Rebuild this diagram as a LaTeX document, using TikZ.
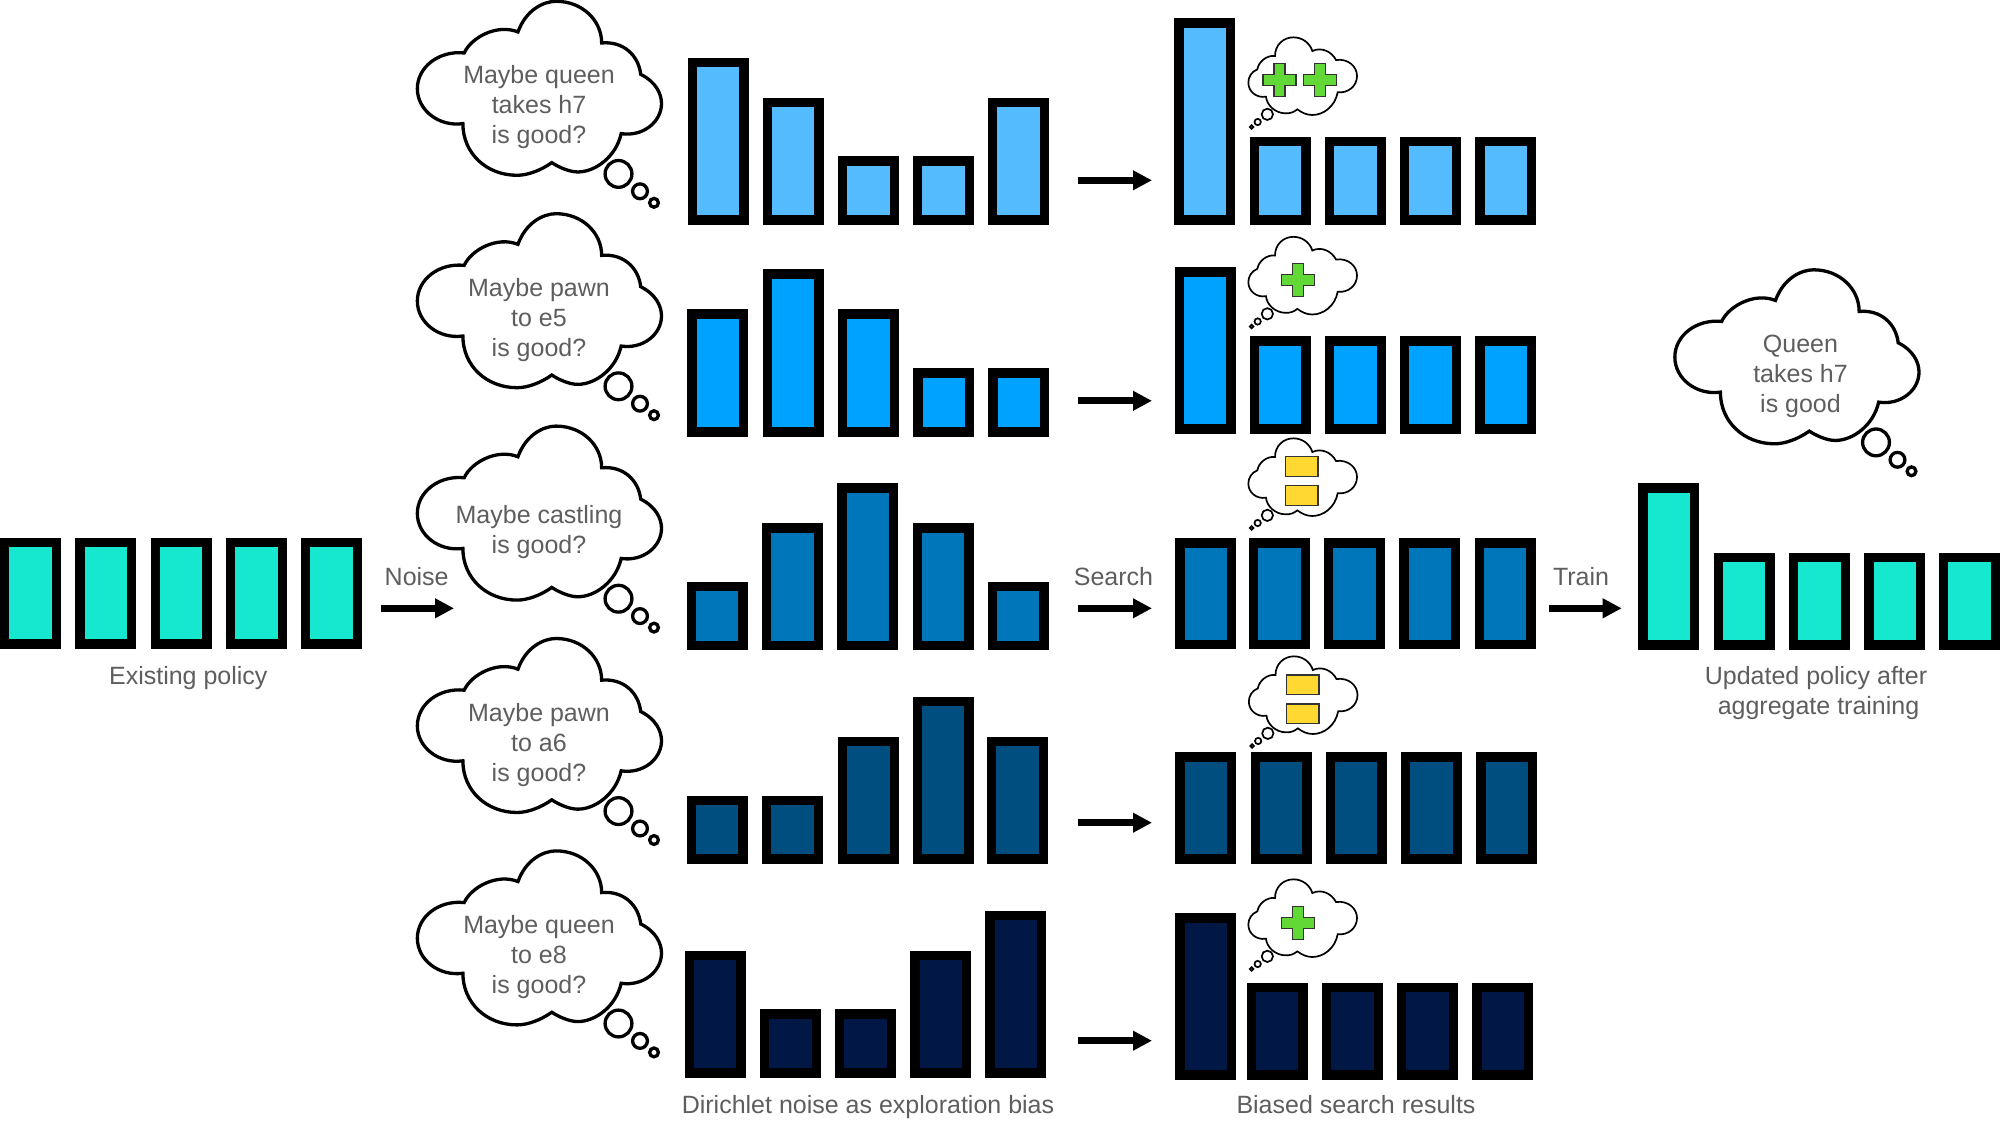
\documentclass[tikz,border=0pt]{standalone}
\usepackage{fontspec}
\setmainfont{Liberation Sans}
\usetikzlibrary{arrows.meta}
\definecolor{teal1}{HTML}{16E7CF}
\definecolor{blueA}{HTML}{55BBFF}
\definecolor{blueB}{HTML}{00A2FF}
\definecolor{blueC}{HTML}{0076BA}
\definecolor{blueD}{HTML}{004D80}
\definecolor{blueE}{HTML}{011745}
\definecolor{plusgreen}{HTML}{61D836}
\definecolor{eqyellow}{HTML}{FFD932}
\definecolor{txtgray}{HTML}{5E5E5E}
\tikzset{
  lbl/.style={text=txtgray,inner sep=0pt,align=center,font=\fontsize{25}{30}\selectfont},
  flow/.style={line width=7pt,line cap=butt,-{Triangle[length=19pt,width=18.7pt]}},
  bigline/.style={draw=black,line width=3.3pt,fill=white,line join=miter},
  smallline/.style={draw=black,line width=1.7pt,fill=white,line join=miter},
  markline/.style={draw=black!80,line width=1.2pt}
}
\newcommand\pbar[4]{%
  \fill[black] (#1,#2) rectangle (#1+61,#3);
  \fill[#4] (#1+9.4,#2+9.6) rectangle (#1+51.6,#3-9.6);}
\newcommand\cloudbig[2]{%
 \begin{scope}[shift={(#1,#2)}]
  \begin{scope}[xscale=0.43365,yscale=0.33333]
  \path[bigline] (148,158) .. controls (165,110) and (225,70) .. (272,95)
   .. controls (290,30) and (330,3) .. (360,3)
   .. controls (420,3) and (465,60) .. (465,128)
   .. controls (515,122) and (550,165) .. (555,222)
   .. controls (590,245) and (603,280) .. (603,310)
   .. controls (603,365) and (560,410) .. (510,400)
   .. controls (498,470) and (450,515) .. (410,515)
   .. controls (390,515) and (365,500) .. (350,487)
   .. controls (325,510) and (295,525) .. (270,525)
   .. controls (200,525) and (145,460) .. (145,370)
   .. controls (90,380) and (40,330) .. (40,265)
   .. controls (40,200) and (90,150) .. (148,158) -- cycle;
  \end{scope}
  \path[bigline] (218.5,173.6) circle[radius=13.4];
  \path[bigline] (240,191) circle[radius=7.4];
  \path[bigline] (254,202.5) circle[radius=4.4];
 \end{scope}}
\newcommand\cloudsmall[2]{%
 \begin{scope}[shift={(#1,#2)}]
  \begin{scope}[scale=0.33333]
  \path[smallline] (292,208) .. controls (296,185) and (320,165) .. (345,168)
   .. controls (345,135) and (370,112) .. (400,112)
   .. controls (428,112) and (450,130) .. (457,153)
   .. controls (485,140) and (515,155) .. (528,180)
   .. controls (565,175) and (591,200) .. (591,228)
   .. controls (591,258) and (565,280) .. (533,277)
   .. controls (525,320) and (490,345) .. (457,345)
   .. controls (440,345) and (425,338) .. (412,328)
   .. controls (400,338) and (390,340) .. (377,340)
   .. controls (345,340) and (320,315) .. (318,290)
   .. controls (290,295) and (265,275) .. (265,248)
   .. controls (265,230) and (275,215) .. (292,208) -- cycle;
  \path[smallline] (322,343) circle[radius=17];
  \path[smallline] (293,366) circle[radius=9.5];
  \path[smallline] (275,381) circle[radius=5.5];
  \end{scope}
 \end{scope}}
\newcommand\plusmark[2]{%
 \path[markline,fill=plusgreen] (#1-5.5,#2-16.5) -- (#1+5.5,#2-16.5) -- (#1+5.5,#2-5.5) -- (#1+16.5,#2-5.5)
  -- (#1+16.5,#2+5.5) -- (#1+5.5,#2+5.5) -- (#1+5.5,#2+16.5) -- (#1-5.5,#2+16.5) -- (#1-5.5,#2+5.5)
  -- (#1-16.5,#2+5.5) -- (#1-16.5,#2-5.5) -- (#1-5.5,#2-5.5) -- cycle;}
\newcommand\eqmark[2]{%
 \path[markline,fill=eqyellow] (#1,#2) rectangle (#1+32.5,#2+19.5);
 \path[markline,fill=eqyellow] (#1,#2+29) rectangle (#1+32.5,#2+48.5);}
\begin{document}
\begin{tikzpicture}[x=1pt,y=-1pt]
\fill[white] (0,0) rectangle (2000,1134);
\useasboundingbox (0,0) rectangle (2000,1134);

% existing policy
\foreach \x in {0,75.3,150.7,226,301} {\pbar{\x}{537.7}{649}{teal1}}

% noise bars
\pbar{687.5}{57.7}{225}{blueA}\pbar{762.7}{97.7}{225}{blueA}\pbar{838}{156}{225}{blueA}\pbar{913}{156}{225}{blueA}\pbar{988}{97.7}{225}{blueA}
\pbar{687.3}{309.3}{436.7}{blueB}\pbar{762.7}{269.3}{436.7}{blueB}\pbar{838}{309.3}{436.7}{blueB}\pbar{913.3}{368}{436.7}{blueB}\pbar{988.3}{368}{436.7}{blueB}
\pbar{686.7}{581.7}{650.3}{blueC}\pbar{762}{523.3}{650.3}{blueC}\pbar{837.3}{483.3}{650.3}{blueC}\pbar{912.7}{523.3}{650.3}{blueC}\pbar{987.7}{581.7}{650.3}{blueC}
\pbar{686.7}{795.7}{864}{blueD}\pbar{762}{795.7}{864}{blueD}\pbar{838}{736.7}{864}{blueD}\pbar{912.7}{696.7}{864}{blueD}\pbar{987}{736.7}{864}{blueD}
\pbar{684.7}{950.7}{1077.7}{blueE}\pbar{760}{1009.3}{1077.7}{blueE}\pbar{835}{1009.3}{1077.7}{blueE}\pbar{910.3}{950.7}{1077.7}{blueE}\pbar{985.3}{910.7}{1077.7}{blueE}

% search result bars
\pbar{1174.3}{18.5}{225}{blueA}\pbar{1249.7}{136.7}{225}{blueA}\pbar{1325}{136.7}{225}{blueA}\pbar{1400}{136.7}{225}{blueA}\pbar{1475.3}{136.7}{225}{blueA}
\pbar{1174.7}{267.3}{434}{blueB}\pbar{1249.7}{336.3}{434}{blueB}\pbar{1325}{336.3}{434}{blueB}\pbar{1400}{336.3}{434}{blueB}\pbar{1475.3}{336.3}{434}{blueB}
\pbar{1175.3}{538.3}{649.3}{blueC}\pbar{1249}{538.3}{649.3}{blueC}\pbar{1324}{538.3}{649.3}{blueC}\pbar{1399.3}{538.3}{649.3}{blueC}\pbar{1474.7}{538.3}{649.3}{blueC}
\pbar{1175.3}{752.3}{864}{blueD}\pbar{1250.7}{752.3}{864}{blueD}\pbar{1325.7}{752.3}{864}{blueD}\pbar{1401}{752.3}{864}{blueD}\pbar{1476.3}{752.3}{864}{blueD}
\pbar{1175.3}{913.3}{1080}{blueE}\pbar{1246.7}{982.7}{1080}{blueE}\pbar{1322}{982.7}{1080}{blueE}\pbar{1397}{982.7}{1080}{blueE}\pbar{1472.3}{982.7}{1080}{blueE}

% updated policy
\pbar{1638.3}{483.3}{650}{teal1}\pbar{1713.7}{552.7}{650}{teal1}\pbar{1789}{552.7}{650}{teal1}\pbar{1864.3}{552.7}{650}{teal1}\pbar{1939}{552.7}{650}{teal1}

% thought clouds with text
\cloudbig{400}{0.3}
\node[lbl] (c1) at (539,108) {\strut Maybe queen\\\strut takes h7\\\strut is good?};
\cloudbig{400}{212.7}
\node[lbl] (c2) at (539,320.4) {\strut Maybe pawn\\\strut to e5\\\strut is good?};
\cloudbig{400}{425.1}
\node[lbl] (c3) at (539,532.8) {\strut Maybe castling\\\strut is good?};
\cloudbig{400}{637.5}
\node[lbl] (c4) at (539,745.2) {\strut Maybe pawn\\\strut to a6\\\strut is good?};
\cloudbig{400}{849.9}
\node[lbl] (c5) at (539,957.6) {\strut Maybe queen\\\strut to e8\\\strut is good?};
\cloudbig{1657.5}{268.8}
\node[lbl] (c6) at (1800.5,376.8) {\strut Queen\\\strut takes h7\\\strut is good};

% small clouds
\cloudsmall{1160}{0}
\plusmark{1279.5}{79.8}\plusmark{1320.3}{79.8}
\cloudsmall{1160}{199.5}
\plusmark{1298}{280}
\cloudsmall{1160}{401}
\eqmark{1285.5}{456.7}
\cloudsmall{1160.5}{619}
\eqmark{1286.5}{675}
\cloudsmall{1160}{842}
\plusmark{1298}{922.7}

% arrows
\coordinate (n0) at (380.7,608.3); \coordinate (n1) at (454,608.3);
\draw[flow] (n0) -- (n1);
\coordinate (s1a) at (1078,180.3); \coordinate (s1b) at (1152,180.3);
\draw[flow] (s1a) -- (s1b);
\coordinate (s2a) at (1078,400.8); \coordinate (s2b) at (1152,400.8);
\draw[flow] (s2a) -- (s2b);
\coordinate (s3a) at (1078,608.3); \coordinate (s3b) at (1152,608.3);
\draw[flow] (s3a) -- (s3b);
\coordinate (s4a) at (1078,822.7); \coordinate (s4b) at (1152,822.7);
\draw[flow] (s4a) -- (s4b);
\coordinate (s5a) at (1078,1040.7); \coordinate (s5b) at (1152,1040.7);
\draw[flow] (s5a) -- (s5b);
\coordinate (t0) at (1549,608.3); \coordinate (t1) at (1621.7,608.3);
\draw[flow] (t0) -- (t1);

% labels
\node[lbl,anchor=base] (l1) at (188.3,684.7) {Existing policy};
\node[lbl,anchor=base] (l2) at (416.7,585) {Noise};
\node[lbl,anchor=base] (l3) at (1113.5,585) {Search};
\node[lbl,anchor=base] (l4) at (1581,585) {Train};
\node[lbl,anchor=base] (l5) at (1816,684.7) {Updated policy after};
\node[lbl,anchor=base] (l6) at (1818.5,714.7) {aggregate training};
\node[lbl,anchor=base] (l7) at (868,1113.5) {Dirichlet noise as exploration bias};
\node[lbl,anchor=base] (l8) at (1356,1113.5) {Biased search results};
\end{tikzpicture}
\end{document}
